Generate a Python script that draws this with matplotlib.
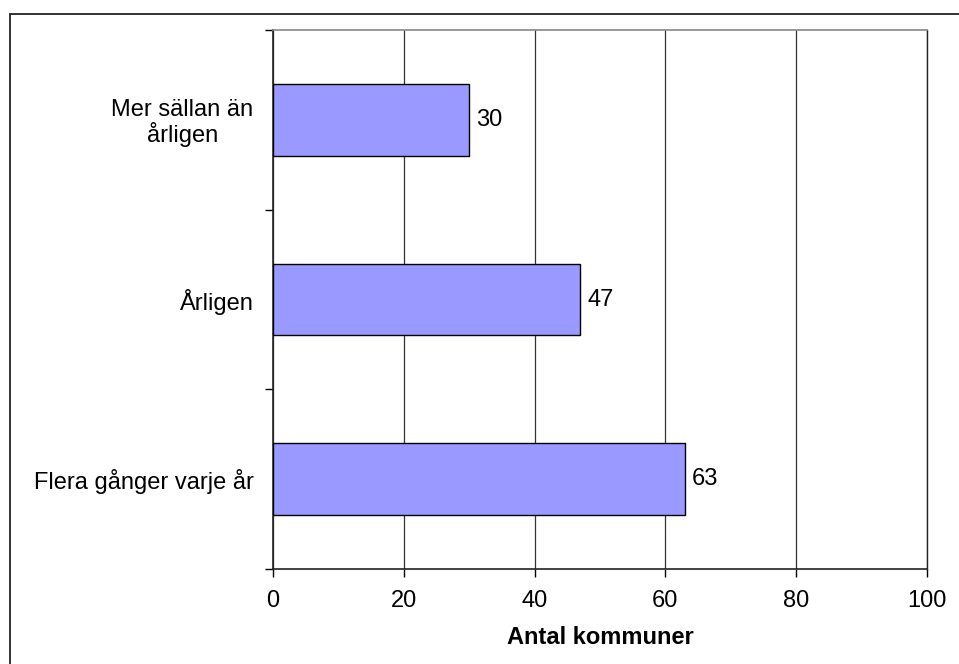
import matplotlib
matplotlib.use("Agg")
import matplotlib.pyplot as plt
from matplotlib.patches import Rectangle
import numpy as np

categories = ["Flera gånger varje år", "Årligen", "Mer sällan än\nårligen"]
values = [63, 47, 30]
xticks = [0, 20, 40, 60, 80, 100]
xlabel = "Antal kommuner"

plt.rcParams['font.family'] = ['Liberation Sans', 'DejaVu Sans']
FS = 17

W, H = 959, 664
fig = plt.figure(figsize=(W / 100, H / 100), dpi=100)
left, right, top, bottom = 273, 927, 30, 569
ax = fig.add_axes([left / W, 1 - bottom / H, (right - left) / W, (bottom - top) / H])

# figure border (only left and top visible)
fig.patches.append(Rectangle((9.5 / W, -0.1), 1.2, (664 - 14) / H + 0.1,
                             transform=fig.transFigure, fill=False,
                             edgecolor='#222222', linewidth=1.3))

y = np.arange(len(categories))
ax.barh(y, values, height=0.4, color='#9999FF', edgecolor='black', linewidth=1.0, zorder=3)
for yi, v in zip(y, values):
    ax.text(v + 1.1, yi, str(v), va='center', ha='left', fontsize=FS, zorder=4)

ax.set_xlim(0, 100)
ax.set_ylim(-0.5, len(categories) - 0.5)
ax.set_xticks(xticks)
ax.set_xticklabels([str(t) for t in xticks], fontsize=FS)
ax.tick_params(axis='x', direction='out', length=6, width=1, pad=9)

ax.set_yticks(y)
ax.set_yticklabels(categories, fontsize=FS, multialignment='center', linespacing=1.05)
ax.set_yticks(np.arange(-0.5, len(categories), 1.0), minor=True)
ax.tick_params(axis='y', which='major', length=0, pad=14)
ax.tick_params(axis='y', which='minor', direction='out', length=6, width=1)

ax.grid(axis='x', color='#333333', linewidth=0.9, zorder=0)
ax.set_axisbelow(True)
for s in ['left', 'bottom']:
    ax.spines[s].set_color('#222222')
    ax.spines[s].set_linewidth(1.2)
ax.spines['top'].set_color('#888888')
ax.spines['top'].set_linewidth(1.2)
ax.spines['right'].set_color('#222222')
ax.spines['right'].set_linewidth(1.0)

ax.set_xlabel(xlabel, fontsize=FS, fontweight='bold', labelpad=10)

fig.savefig("out.png", dpi=100, facecolor='white')
